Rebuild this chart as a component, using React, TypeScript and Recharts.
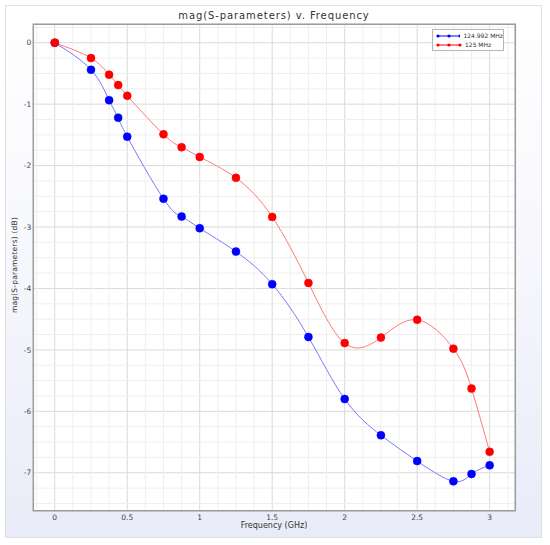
import {
  CartesianGrid,
  Line,
  LineChart,
  ReferenceArea,
  ReferenceLine,
  XAxis,
  YAxis,
} from 'recharts'

const FREQ_GHZ = [0, 0.25, 0.375, 0.4375, 0.5, 0.75, 0.875, 1, 1.25, 1.5, 1.75, 2, 2.25, 2.5, 2.75, 2.875, 3]
const MAG_124_992 = [0, -0.44, -0.935, -1.22, -1.53, -2.54, -2.83, -3.02, -3.4, -3.93, -4.79, -5.8, -6.39, -6.81, -7.14, -7.02, -6.88]
const MAG_125 = [0, -0.25, -0.52, -0.69, -0.865, -1.49, -1.7, -1.86, -2.2, -2.835, -3.91, -4.89, -4.8, -4.51, -4.98, -5.63, -6.66]

const X_TICKS = [0, 0.5, 1, 1.5, 2, 2.5, 3]
const Y_TICKS = [0, -1, -2, -3, -4, -5, -6, -7]
const X_DOMAIN: [number, number] = [-0.148, 3.177]
const Y_DOMAIN: [number, number] = [-7.618, 0.3]

const SERIES = [
  { key: 'a', name: '124.992 MHz', line: '#7878ff', dot: '#0000ff' },
  { key: 'b', name: '125 MHz', line: '#ff7878', dot: '#ff0000' },
]

const rows = FREQ_GHZ.map((f, i) => ({ f, a: MAG_124_992[i], b: MAG_125[i] }))

// minor grid: every 0.125 GHz and every 0.25 dB
const minorX: number[] = []
for (let v = -0.125; v <= 3.13; v += 0.125) if (!X_TICKS.includes(v)) minorX.push(v)
const minorY: number[] = []
for (let v = 0.25; v >= -7.5; v -= 0.25) if (!Y_TICKS.includes(v)) minorY.push(v)

const FONT = '"DejaVu Sans", sans-serif'

function LegendBox() {
  return (
    <div
      style={{
        position: 'absolute',
        left: 432,
        top: 29,
        border: '1px solid #b5b5b5',
        background: '#fff',
        width: 72,
        height: 22,
        boxSizing: 'border-box',
        padding: '1px 0 0 3px',
        fontFamily: FONT,
        fontSize: 6,
        color: '#333',
      }}
    >
      {SERIES.map(s => (
        <div key={s.key} style={{ display: 'flex', alignItems: 'center', height: 9 }}>
          <svg width={26} height={6}>
            <line x1={1} x2={25} y1={3} y2={3} stroke={s.dot} strokeWidth={1} />
            {[2, 13, 24].map(cx => (
              <circle key={cx} cx={cx} cy={3} r={1.6} fill={s.dot} />
            ))}
          </svg>
          <span style={{ marginLeft: 3, whiteSpace: 'nowrap' }}>{s.name}</span>
        </div>
      ))}
    </div>
  )
}

export default function App() {
  return (
    <div style={{ position: 'absolute', left: 0, top: 0, width: 550, height: 545, background: '#fff' }}>
      <div
        style={{
          position: 'absolute',
          left: 5,
          top: 5,
          width: 537,
          height: 533,
          boxSizing: 'border-box',
          border: '1px solid #e0e0e6',
          background: 'linear-gradient(to bottom, #ffffff 0%, #f6f7fc 50%, #e9ebf8 100%)',
        }}
      />
      <div
        style={{
          position: 'absolute',
          left: 33,
          top: 10,
          width: 482,
          textAlign: 'center',
          fontFamily: FONT,
          fontSize: 10,
          lineHeight: '12px',
          letterSpacing: 0.9,
          color: '#333',
        }}
      >
        mag(S-parameters) v. Frequency
      </div>
      <div
        style={{
          position: 'absolute',
          left: 33,
          top: 520,
          width: 482,
          textAlign: 'center',
          fontFamily: FONT,
          fontSize: 8,
          lineHeight: '12px',
          color: '#333',
        }}
      >
        Frequency (GHz)
      </div>
      <div
        style={{
          position: 'absolute',
          left: 13.5,
          top: 265,
          transform: 'translate(-50%, -50%) rotate(-90deg)',
          whiteSpace: 'nowrap',
          fontFamily: FONT,
          fontSize: 7.5,
          letterSpacing: 0.2,
          color: '#333',
        }}
      >
        mag(S-parameters) (dB)
      </div>
      <div style={{ position: 'absolute', left: 0, top: 0 }}>
        <LineChart
          width={550}
          height={545}
          data={rows}
          margin={{ top: 24.3, right: 34.7, left: 5.3, bottom: 14.3 }}
        >
          <CartesianGrid stroke="#dadada" fill="#fff" />
          {minorX.map(v => (
            <ReferenceLine key={`mx${v}`} x={v} stroke="#efefef" ifOverflow="hidden" zIndex={-90} />
          ))}
          {minorY.map(v => (
            <ReferenceLine key={`my${v}`} y={v} stroke="#efefef" ifOverflow="hidden" zIndex={-90} />
          ))}
          <XAxis
            dataKey="f"
            type="number"
            domain={X_DOMAIN}
            ticks={X_TICKS}
            allowDataOverflow
            axisLine={false}
            tickLine={false}
            tickSize={2}
            tickMargin={2}
            height={20}
            tick={{ fontSize: 7.5, fill: '#444', fontFamily: FONT }}
            interval={0}
          />
          <YAxis
            type="number"
            domain={Y_DOMAIN}
            ticks={Y_TICKS}
            allowDataOverflow
            axisLine={false}
            tickLine={false}
            tickSize={1}
            tickMargin={1}
            width={28}
            tick={{ fontSize: 7.5, fill: '#444', fontFamily: FONT }}
            interval={0}
          />
          <ReferenceArea
            x1={X_DOMAIN[0]}
            x2={X_DOMAIN[1]}
            y1={Y_DOMAIN[0]}
            y2={Y_DOMAIN[1]}
            fill="none"
            stroke="#9c9c9c"
            strokeWidth={1.5}
          />
          {SERIES.map(s => (
            <Line
              key={s.key}
              dataKey={s.key}
              name={s.name}
              type="natural"
              stroke={s.line}
              strokeWidth={1}
              dot={{ r: 4, fill: s.dot, stroke: s.dot, strokeWidth: 0.5 }}
              activeDot={false}
              isAnimationActive={false}
            />
          ))}
        </LineChart>
      </div>
      <LegendBox />
    </div>
  )
}
